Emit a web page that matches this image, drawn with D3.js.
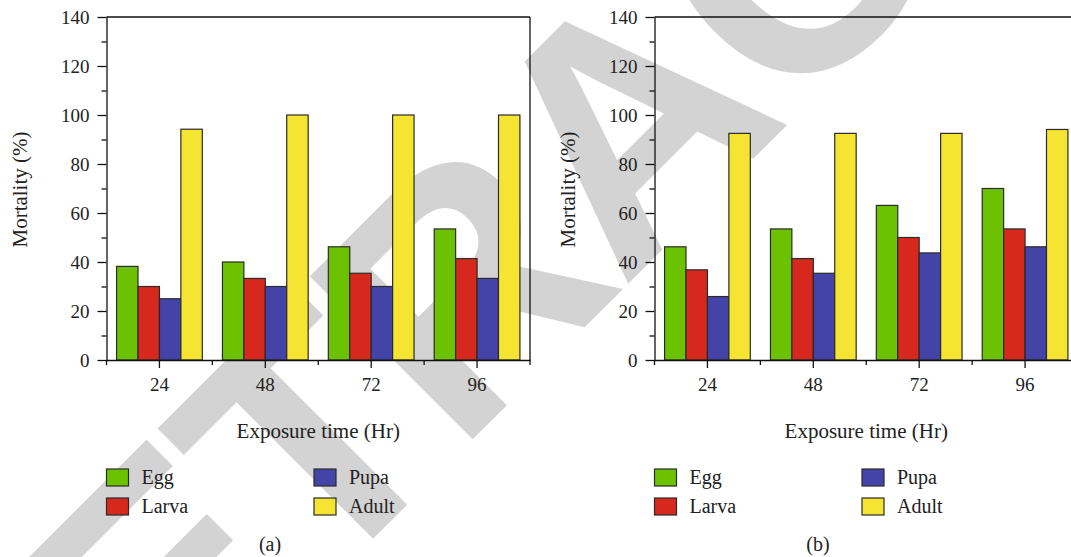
<!DOCTYPE html>
<html>
<head>
<meta charset="utf-8">
<script src="https://cdn.jsdelivr.net/npm/d3@7"></script>
<style>
  html, body { margin: 0; padding: 0; background: #fff; }
  svg { display: block; }
  .lbl { font-family: "Liberation Serif", "DejaVu Serif", serif; fill: #222; }
  .wm { font-family: "Liberation Sans", Arial, sans-serif; font-weight: bold; fill: #d3d3d3; }
</style>
</head>
<body>
<svg id="chart" width="1071" height="557"></svg>
<script>
// ---- data ----
const categories = ["24", "48", "72", "96"];
const seriesNames = ["Egg", "Larva", "Pupa", "Adult"];
const seriesColors = ["#6cc200", "#d6281c", "#4444a8", "#f5e532"];

// panel (a)
const eggA   = [38.2, 40.0, 46.2, 53.5];
const larvaA = [30.0, 33.3, 35.4, 41.4];
const pupaA  = [25.0, 30.0, 30.0, 33.3];
const adultA = [94.2, 100, 100, 100];

// panel (b)
const eggB   = [46.2, 53.5, 63.1, 70.0];
const larvaB = [36.8, 41.4, 50.0, 53.5];
const pupaB  = [25.9, 35.4, 43.7, 46.2];
const adultB = [92.5, 92.5, 92.5, 94.1];

const yMajorTicks = [0, 20, 40, 60, 80, 100, 120, 140];
const yMinorTicks = [10, 30, 50, 70, 90, 110, 130];
const yLabel = "Mortality (%)";
const xLabel = "Exposure time (Hr)";
const panelLabels = ["(a)", "(b)"];
const watermark = "RETRACTED";

// ---- drawing ----
const svg = d3.select("#chart");
const plotTop = 17, plotBottom = 360;

// watermark behind everything
svg.append("text")
  .attr("class", "wm")
  .attr("transform", "translate(705,207) rotate(-45)")
  .attr("text-anchor", "middle")
  .attr("font-size", 335)
  .attr("letter-spacing", -8)
  .text(watermark);

function panel(opts) {
  const { x0, x1, series, tag, showRight } = opts;
  const g = svg.append("g");

  const x = d3.scaleBand().domain(categories).range([x0, x1]).paddingInner(0).paddingOuter(0);
  const xs = d3.scaleBand().domain(seriesNames).range([0, x.bandwidth()]).paddingInner(0).paddingOuter(0.47);
  const y = d3.scaleLinear().domain([0, 140]).range([plotBottom, plotTop]);

  // frame
  g.append("line").attr("x1", x0).attr("x2", x1).attr("y1", plotTop).attr("y2", plotTop)
    .attr("stroke", "#111").attr("stroke-width", 1.3);
  if (showRight) {
    g.append("line").attr("x1", x1).attr("x2", x1).attr("y1", plotTop).attr("y2", plotBottom)
      .attr("stroke", "#111").attr("stroke-width", 1.3);
  }

  // bars
  const rows = categories.map((c, i) => ({ c, vals: series.map((s, k) => ({ name: seriesNames[k], v: s[i], k })) }));
  const grp = g.selectAll("g.grp").data(rows).join("g")
    .attr("class", "grp")
    .attr("transform", d => `translate(${x(d.c)},0)`);
  grp.selectAll("rect").data(d => d.vals).join("rect")
    .attr("x", d => xs(d.name))
    .attr("width", xs.bandwidth())
    .attr("y", d => y(d.v))
    .attr("height", d => y(0) - y(d.v))
    .attr("fill", d => seriesColors[d.k])
    .attr("stroke", "#2a2a2a")
    .attr("stroke-width", 1.2);

  // y axis
  const ya = g.append("g").attr("transform", `translate(${x0},0)`)
    .call(d3.axisLeft(y).tickValues(yMajorTicks).tickSize(9).tickSizeOuter(0).tickPadding(8).tickFormat(d3.format("d")));
  ya.attr("font-family", null).attr("font-size", null);
  ya.select(".domain").attr("stroke", "#111").attr("stroke-width", 1.3);
  ya.selectAll(".tick line").attr("stroke", "#111").attr("stroke-width", 1.3);
  ya.selectAll(".tick text").attr("class", "lbl").attr("font-size", 19).attr("fill", "#222");
  const yam = g.append("g").attr("transform", `translate(${x0},0)`)
    .call(d3.axisLeft(y).tickValues(yMinorTicks).tickSize(5).tickSizeOuter(0).tickFormat(""));
  yam.select(".domain").remove();
  yam.selectAll(".tick line").attr("stroke", "#111").attr("stroke-width", 1.3);

  // x axis
  const xa = g.append("g").attr("transform", `translate(0,${plotBottom})`)
    .call(d3.axisBottom(x).tickSize(8).tickSizeOuter(0).tickPadding(10));
  xa.attr("font-family", null).attr("font-size", null);
  xa.select(".domain").attr("stroke", "#111").attr("stroke-width", 1.3);
  xa.selectAll(".tick line").attr("stroke", "#111").attr("stroke-width", 1.3);
  xa.selectAll(".tick text").attr("class", "lbl").attr("font-size", 19).attr("fill", "#222");
  // minor ticks at band boundaries
  const bounds = categories.map(c => x(c)).concat([x1]);
  g.append("g").selectAll("line").data(bounds).join("line")
    .attr("x1", d => d).attr("x2", d => d)
    .attr("y1", plotBottom).attr("y2", plotBottom + 5)
    .attr("stroke", "#111").attr("stroke-width", 1.3);

  // axis titles
  g.append("text").attr("class", "lbl")
    .attr("transform", `translate(${x0 - 79.5},${(plotTop + plotBottom) / 2 + 1}) rotate(-90)`)
    .attr("text-anchor", "middle")
    .attr("font-size", 21)
    .text(yLabel);
  const xc = (x0 + x1) / 2;
  g.append("text").attr("class", "lbl")
    .attr("x", xc).attr("y", 437.5)
    .attr("text-anchor", "middle")
    .attr("font-size", 21)
    .text(xLabel);

  // legend
  const legPos = [
    { dx: 0, dy: 469 }, { dx: 0, dy: 498 },
    { dx: 207.5, dy: 469 }, { dx: 207.5, dy: 498 }
  ];
  seriesNames.forEach((name, k) => {
    const p = legPos[k];
    g.append("rect")
      .attr("x", x0 + p.dx).attr("y", p.dy)
      .attr("width", 22).attr("height", 17)
      .attr("fill", seriesColors[k]).attr("stroke", "#2a2a2a").attr("stroke-width", 1.2);
    g.append("text").attr("class", "lbl")
      .attr("x", x0 + p.dx + 35).attr("y", p.dy + 15)
      .attr("font-size", 20)
      .text(name);
  });

  // panel tag
  g.append("text").attr("class", "lbl")
    .attr("x", opts.tagX).attr("y", 551)
    .attr("text-anchor", "middle")
    .attr("font-size", 20)
    .text(tag);
}

panel({ x0: 106.5, x1: 530, series: [eggA, larvaA, pupaA, adultA], tag: panelLabels[0], tagX: 270, showRight: true });
panel({ x0: 654.5, x1: 1078, series: [eggB, larvaB, pupaB, adultB], tag: panelLabels[1], tagX: 818, showRight: false });
</script>
</body>
</html>
